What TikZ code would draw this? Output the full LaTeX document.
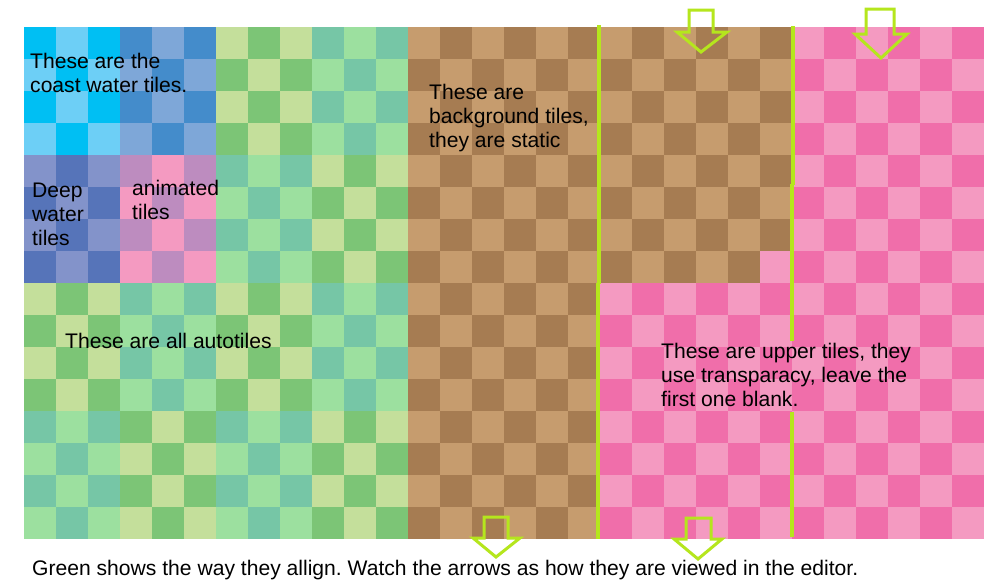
\documentclass[tikz,border=0pt]{standalone}
\usepackage{fontspec}
\setmainfont{Liberation Sans}
\frenchspacing
\definecolor{cyanA}{HTML}{00BFF3}
\definecolor{cyanB}{HTML}{6DCFF6}
\definecolor{blueA}{HTML}{448CCB}
\definecolor{blueB}{HTML}{7EA7D8}
\definecolor{deepA}{HTML}{8393CA}
\definecolor{deepB}{HTML}{5674B9}
\definecolor{animA}{HTML}{BD8CBF}
\definecolor{animB}{HTML}{F49AC1}
\definecolor{pale}{HTML}{C4DF9B}
\definecolor{grn}{HTML}{7CC576}
\definecolor{teal}{HTML}{76C6A6}
\definecolor{lgrn}{HTML}{9CE09F}
\definecolor{tanL}{HTML}{C69C6E}
\definecolor{tanD}{HTML}{A67C52}
\definecolor{pinkL}{HTML}{F49AC1}
\definecolor{pinkD}{HTML}{F06EAA}
\definecolor{lime}{HTML}{B5E61D}
\tikzset{
  lbl/.style={anchor=base west, inner sep=0pt, align=left, text=black,
    font=\fontsize{21.1}{24}\selectfont\frenchspacing},
  guide/.style={draw=lime, line width=3.5pt},
  hollowarrow/.style={draw=lime, line width=3pt, line join=miter}
}
\begin{document}
\begin{tikzpicture}[x=1pt,y=-1pt]
\useasboundingbox (0,0) rectangle (995,587);
\fill[white] (0,0) rectangle (995,587);
% 3x4 tile blocks on the left
\foreach \bx/\by/\ce/\co in {0/0/cyanA/cyanB, 3/0/blueA/blueB, 0/4/deepA/deepB, 3/4/animA/animB,
  6/0/pale/grn, 9/0/teal/lgrn, 6/4/teal/lgrn, 9/4/pale/grn,
  0/8/pale/grn, 3/8/teal/lgrn, 6/8/pale/grn, 9/8/teal/lgrn,
  0/12/teal/lgrn, 3/12/grn/pale, 6/12/teal/lgrn, 9/12/pale/grn} {
  \foreach \i in {0,1,2} {
    \foreach \j in {0,1,2,3} {
      \pgfmathtruncatemacro\p{mod(\i+\j,2)}
      \ifnum\p=0 \def\c{\ce}\else\def\c{\co}\fi
      \fill[\c] ({24+32*(\bx+\i)},{27+32*(\by+\j)}) rectangle ++(32,32);
    }
  }
}
% background (brown) and upper (pink) tiles
\foreach \i in {12,...,29} {
  \foreach \j in {0,...,15} {
    \pgfmathtruncatemacro\p{mod(\i+\j,2)}
    \pgfmathtruncatemacro\br{(\i<18) || ((\i<24) && (\j<8) && !((\i==23) && (\j==7)))}
    \ifnum\br=1
      \ifnum\p=0 \def\c{tanL}\else\def\c{tanD}\fi
    \else
      \ifnum\p=0 \def\c{pinkL}\else\def\c{pinkD}\fi
    \fi
    \fill[\c] ({24+32*\i},{27+32*\j}) rectangle ++(32,32);
  }
}
% green guide lines
\draw[guide] (599,25) -- (599,284);
\draw[guide] (598,283) -- (598,539);
\draw[guide] (793,26) -- (793,185);
\draw[guide] (792,184) -- (792,341);
\draw[guide] (792,412) -- (792,537);
% hollow arrows
\draw[hollowarrow] (689,10) -- (713,10) -- (713,32) -- (727,32) -- (701,52) -- (677,32) -- (689,32) -- cycle;
\draw[hollowarrow] (866,9) -- (894,9) -- (894,34) -- (907,34) -- (881,58) -- (855,34) -- (866,34) -- cycle;
\draw[hollowarrow] (484,517) -- (508,517) -- (508,538) -- (520,538) -- (496,557) -- (473,538) -- (484,538) -- cycle;
\draw[hollowarrow] (686,518) -- (711,518) -- (711,539) -- (722,539) -- (698,559) -- (674,539) -- (686,539) -- cycle;
% labels (base anchor = baseline of the last line)
\node[lbl] (coast) at (30,92) {These are the\\coast water tiles.};
\node[lbl] (deep) at (32,245) {Deep\\water\\tiles};
\node[lbl] (anim) at (132,219) {animated\\tiles};
\node[lbl] (bg) at (429,147) {These are\\background tiles,\\they are static};
\node[lbl] (auto) at (65,348) {These are all autotiles};
\node[lbl] (upper) at (661,406) {These are upper tiles, they\\use transparacy, leave the\\first one blank.};
\node[lbl] (note) at (32,575) {Green shows the way they allign. Watch the arrows as how they are viewed in the editor.};
\end{tikzpicture}
\end{document}
